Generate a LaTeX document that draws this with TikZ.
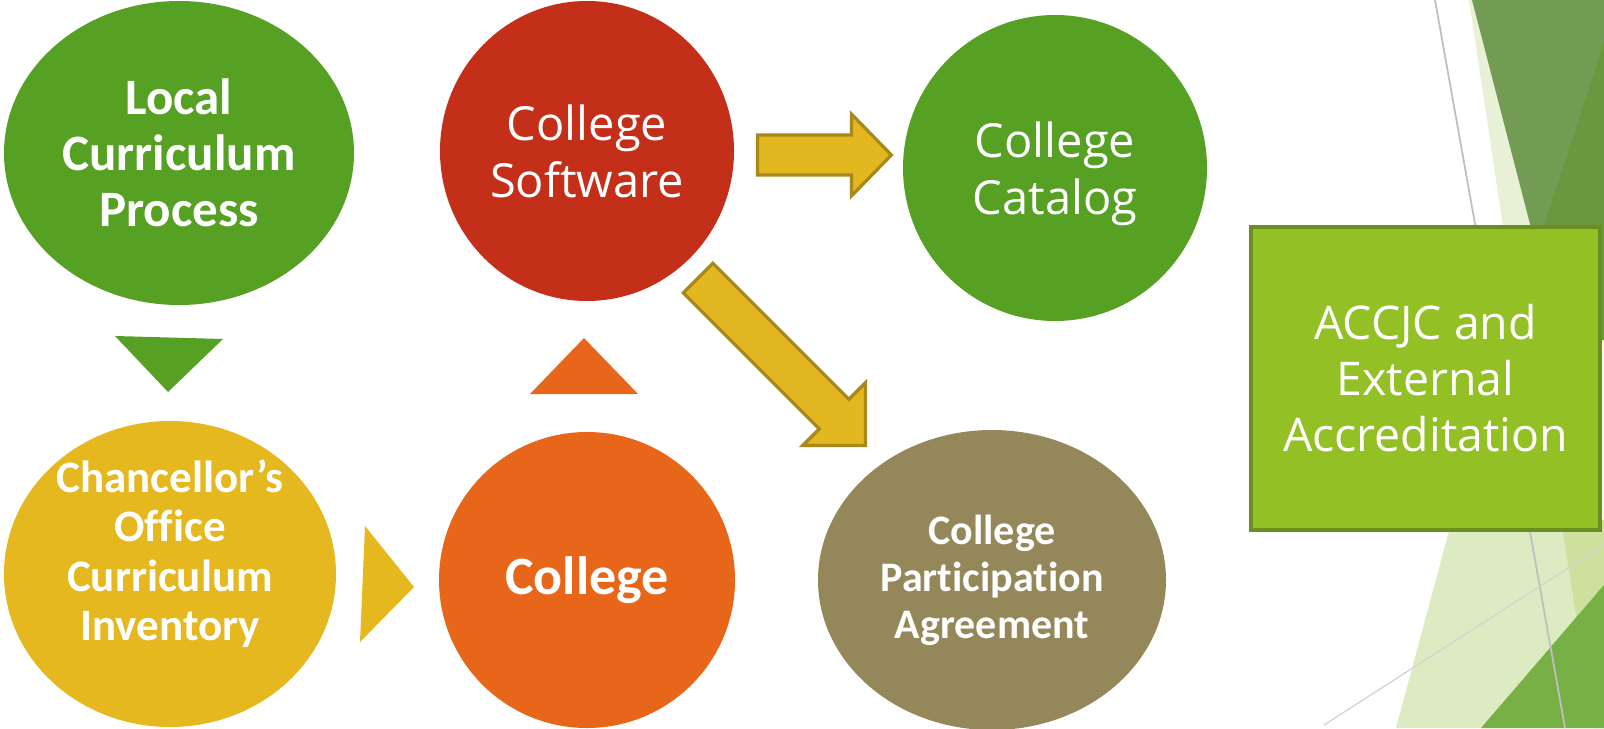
\documentclass[tikz,border=0pt]{standalone}
\usepackage{fontspec}
\setmainfont{Carlito}[Ligatures=NoCommon]
\newfontfamily\lightfont{Open Sans}
\usepackage{tikz}
\usetikzlibrary{shapes.geometric,positioning,calc}

\definecolor{leaf}{HTML}{56A124}
\definecolor{brick}{HTML}{C42F1A}
\definecolor{mustard}{HTML}{E5B81F}
\definecolor{pumpkin}{HTML}{E7661A}
\definecolor{olive}{HTML}{94885A}
\definecolor{lime}{HTML}{93C125}
\definecolor{limeline}{HTML}{6A8F1E}
\definecolor{arrowfill}{HTML}{E3B720}
\definecolor{arrowline}{HTML}{A8881A}
\definecolor{bgpale}{HTML}{DDEBC3}
\definecolor{bgstrip}{HTML}{E8F1D6}
\definecolor{bgmid}{HTML}{CFE09E}
\definecolor{bgdark}{HTML}{729C53}
\definecolor{bgdarker}{HTML}{6A983E}
\definecolor{bgbright}{HTML}{77B146}

\begin{document}
\begin{tikzpicture}[x=0.5pt,y=-0.5pt,
    blob/.style={ellipse,inner sep=0pt,text=white,align=center},
    blockarrow/.style={fill=arrowfill,draw=arrowline,line width=1.6pt,line join=miter},
    wedge/.style={line join=miter}]
    \useasboundingbox (0,0) rectangle (1604,728);

    \fill[bgstrip] (1469,0) -- (1472,0) -- (1560,340) -- (1520,340) -- cycle;
    \fill[bgdark] (1472,0) -- (1604,0) -- (1604,340) -- (1560,340) -- cycle;
    \fill[bgdarker] (1604,43) -- (1544,225) -- (1510,340) -- (1604,340) -- cycle;
    \fill[bgpale] (1452,520) -- (1604,520) -- (1604,728) -- (1396,728) -- cycle;
    \fill[bgmid] (1561,520) -- (1604,520) -- (1604,728) -- (1594,728) -- cycle;
    \fill[bgbright] (1481,728) -- (1604,585) -- (1604,728) -- cycle;
    \draw[black!25,line width=0.9pt] (1435,0) -- (1565,728);
    \draw[black!18,line width=0.6pt] (1324,725) -- (1604,545);

    \node[blob,fill=leaf,minimum width=175pt,minimum height=152pt,
        font=\bfseries\fontsize{25.5}{28}\selectfont] (loc) at (179,153)
        {Local\\Curriculum\\Process};
    \node[blob,fill=brick,minimum width=147pt,minimum height=150pt,
        font=\lightfont\fontsize{23.5}{28.5}\selectfont] (soft) at (587,151)
        {College\\Software};
    \node[blob,fill=leaf,minimum width=152pt,minimum height=153pt,
        font=\lightfont\fontsize{23.5}{28.5}\selectfont,text depth=0pt] (cat) at (1055,168)
        {College\\Catalog};
    \node[blob,fill=mustard,minimum width=166pt,minimum height=153pt,inner ysep=-10pt,
        font=\bfseries\fontsize{22.5}{24.7}\selectfont,text depth=24pt] (chan) at (170,574)
        {Chancellor’s\\Office\\Curriculum\\Inventory};
    \node[blob,fill=pumpkin,minimum width=148pt,minimum height=148pt,
        font=\bfseries\fontsize{27}{30}\selectfont] (coll) at (587,580)
        {College};
    \node[blob,fill=olive,minimum width=174pt,minimum height=150pt,
        font=\bfseries\fontsize{21}{23.5}\selectfont] (agree) at (992,580)
        {College\\Participation\\Agreement};
    \node[draw=limeline,fill=lime,line width=2pt,text=white,align=center,
        minimum width=174.5pt,minimum height=151.5pt,inner sep=0pt,
        font=\lightfont\fontsize{23.2}{28}\selectfont] (acc) at (1425.5,378.5)
        {ACCJC and\\External\\Accreditation};

    \coordinate (t1) at ($(loc.south)!0.5!(chan.north)$);
    \coordinate (t2) at ($(soft.south)!0.5!(coll.north)$);
    \coordinate (t3) at ($(chan.east)!0.5!(coll.west)$);
    \fill[leaf,wedge] (t1) ++(-59.5,-27) -- ++(108,3) -- ++(-55,53) -- cycle;
    \fill[pumpkin,wedge] (t2) ++(-3,-28.5) -- ++(-54,56) -- ++(108,0) -- cycle;
    \fill[mustard,wedge] (t3) ++(-22.5,-51) -- ++(49,61) -- ++(-54,55) -- cycle;

    \coordinate (a1) at ($(soft.east)+(23,4)$);
    \coordinate (a2) at (698,278);
    \draw[blockarrow] (a1) ++(0,-20) -- ++(94,0) -- ++(0,-21) -- ++(40,41)
        -- ++(-40,41) -- ++(0,-21) -- ++(-94,0) -- cycle;
    \begin{scope}[shift={(a2)},rotate=-45]
        \draw[blockarrow] (0,-21) -- (192.5,-21) -- (192.5,-44.5) -- (237,0)
            -- (192.5,44.5) -- (192.5,21) -- (0,21) -- cycle;
    \end{scope}
\end{tikzpicture}
\end{document}
